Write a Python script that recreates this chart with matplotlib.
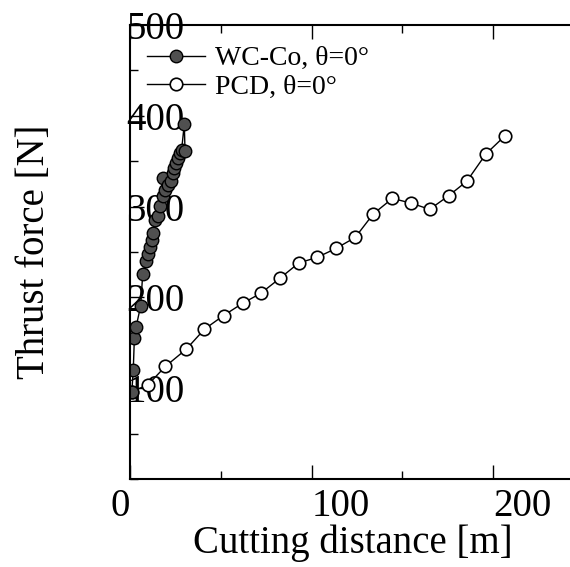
import matplotlib
matplotlib.use("Agg")
import matplotlib.pyplot as plt
from matplotlib.ticker import MultipleLocator

plt.rcParams['font.family'] = ['Liberation Serif', 'DejaVu Serif']

# WC-Co tool, theta = 0 deg
wc_dist = [1.0, 1.8, 2.4, 3.3, 5.9, 7.0, 8.8, 10.0, 11.0, 11.9, 12.8, 13.8, 15.2, 16.5,
           17.9, 18.3, 19.5, 21.0, 22.5, 23.5, 24.3, 25.1, 26.2, 27.5, 28.4, 29.9, 30.3]
wc_force = [96, 120, 155, 167, 191, 226, 240, 248, 256, 263, 271, 285, 290, 301,
            331, 312, 318, 324, 328, 337, 342, 348, 353, 359, 362, 391, 361]

# PCD tool, theta = 0 deg
pcd_dist = [1, 10, 19.5, 31, 41, 51.5, 62, 72, 82.5, 93, 103, 113.5, 124, 134,
            144.5, 154.5, 165, 175.5, 185.5, 196, 206.5]
pcd_force = [96, 104, 124, 143, 165, 180, 193.5, 204.5, 221, 238, 244, 254, 266, 292,
             309, 304, 297, 312, 328, 358, 378]

x_ticks = [0, 100, 200]
y_ticks = [100, 200, 300, 400, 500]

fig = plt.figure(figsize=(5.7, 5.67), dpi=100)
# axes runs past the right edge of the figure (cropped like the original)
ax = fig.add_axes([130 / 570, 88 / 567, 454 / 570, 454 / 567])

l_pcd, = ax.plot(pcd_dist, pcd_force, '-o', color='black', lw=1.0,
                 ms=9, mfc='white', mec='black', mew=1.2, zorder=2)
l_wc, = ax.plot(wc_dist, wc_force, '-o', color='black', lw=1.0,
                ms=9, mfc='#505050', mec='black', mew=1.0, zorder=2.1)

ax.set_xlim(0, 250)
ax.set_ylim(0, 500)
ax.set_xticks(x_ticks)
ax.set_yticks(y_ticks)
ax.xaxis.set_minor_locator(MultipleLocator(50))
ax.yaxis.set_minor_locator(MultipleLocator(50))

for s in ax.spines.values():
    s.set_linewidth(1.5)

ax.tick_params(which='both', direction='in', top=True, right=True, width=1.0, labelsize=28)
ax.tick_params(which='major', length=10)
ax.tick_params(which='minor', length=5.5)
ax.tick_params(axis='x', pad=6.5)
ax.tick_params(axis='y', pad=2.5)

xl = ax.get_xticklabels()
xl[0].set_ha('right')
for t in xl[1:]:
    t.set_ha('left')
for t in ax.get_yticklabels():
    t.set_ha('left')

ax.set_xlabel('Cutting distance [m]', fontsize=28)
ax.set_ylabel('Thrust force [N]', fontsize=28)
ax.xaxis.set_label_coords(0.49, -0.10)
ax.yaxis.set_label_coords(-0.17, 0.5)

ax.legend([l_wc, l_pcd], ['WC-Co, θ=0°', 'PCD, θ=0°'], loc='upper left',
          bbox_to_anchor=(0.037, 0.954), frameon=False, fontsize=20,
          handlelength=2.1, handletextpad=0.36, labelspacing=0.12,
          borderpad=0, borderaxespad=0, numpoints=1)

fig.savefig('out.png', dpi=100)
